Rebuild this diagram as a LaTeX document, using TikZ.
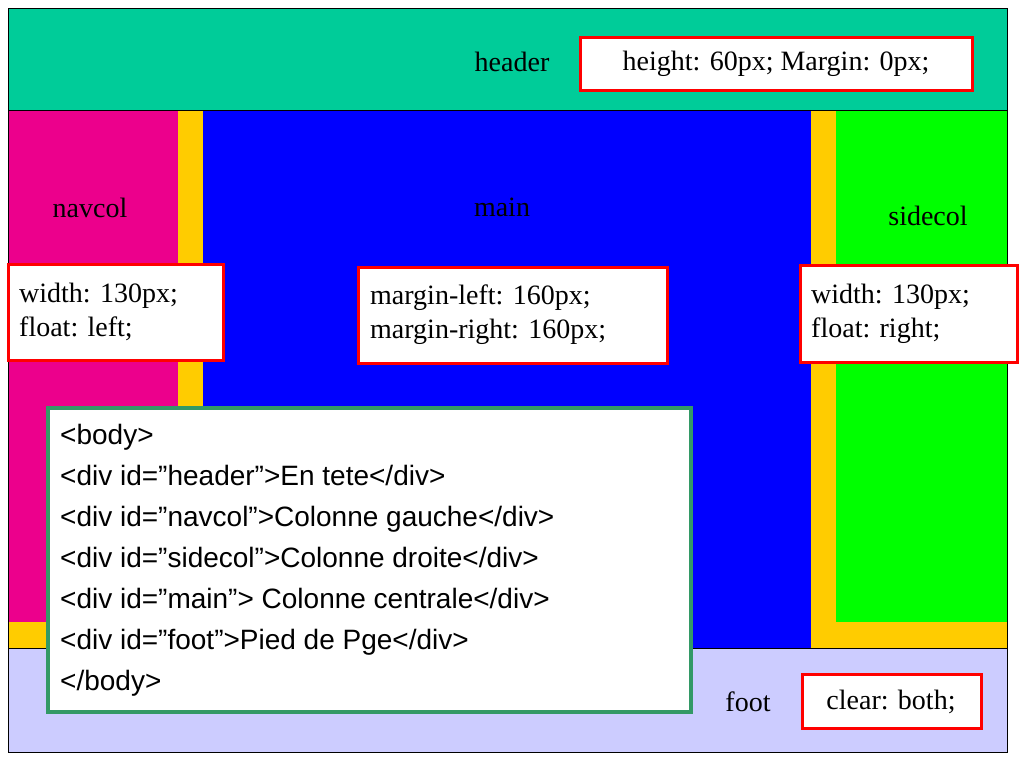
\documentclass[tikz,border=0pt]{standalone}
\usepackage{fontspec}
\setmainfont{Liberation Serif}
\setsansfont{Liberation Sans}
\usetikzlibrary{positioning}
\definecolor{headc}{RGB}{0,204,153}
\definecolor{gutter}{RGB}{255,204,0}
\definecolor{footc}{RGB}{204,204,255}
\definecolor{codeframe}{RGB}{51,153,102}
\tikzstyle{lbl} = [font=\fontsize{28}{30}\selectfont, inner sep=0pt]
\begin{document}
\begin{tikzpicture}[x=1pt, y=-1pt]
\useasboundingbox (0, 0) rectangle (1024, 768);

% Zones
\fill [gutter] (8, 110) rectangle (1007, 648);
\fill [headc] (8, 8) rectangle (1007, 110);
\fill [magenta] (8, 110) rectangle (178, 622);
\fill [blue] (203, 110) rectangle (811, 648);
\fill [green] (836, 110) rectangle (1007, 622);
\fill [footc] (8, 648) rectangle (1007, 752);
\draw (8, 110) -- (1007, 110);
\draw (8, 648) -- (1007, 648);
\draw (8, 8) rectangle (1007, 752);

% Labels
\node [lbl] (header) at (512, 62) {header};
\node [lbl] (navcol) at (90, 208) {navcol};
\node [lbl] (main) at (502, 207) {main};
\node [lbl] (sidecol) at (928, 216) {sidecol};
\node [lbl] (foot) at (748, 702) {foot};

% Rules
\draw [draw=red, line width=3pt, fill=white] (580, 38) rectangle (972, 90);
\node [lbl] (headrule) at (776, 64) {height: 60px; Margin: 0px;};
\draw [draw=red, line width=3pt, fill=white] (8, 264) rectangle (223, 360);
\node [lbl, align=left, anchor=west] (navrule) at (19, 312)
  {width: 130px;\\[4pt] float: left;};
\draw [draw=red, line width=3pt, fill=white] (358, 267) rectangle (667, 363);
\node [lbl, align=left, anchor=west] (mainrule) at (370, 315)
  {margin-left: 160px;\\[4pt] margin-right: 160px;};
\draw [draw=red, line width=3pt, fill=white] (800, 265) rectangle (1017, 362);
\node [lbl, align=left, anchor=west] (siderule) at (811, 314)
  {width: 130px;\\[4pt] float: right;};
\draw [draw=red, line width=3pt, fill=white] (802, 674) rectangle (981, 728);
\node [lbl] (footrule) at (891, 702) {clear: both;};

% Code
\draw [draw=codeframe, line width=4pt, fill=white] (48, 408) rectangle (691, 712);
\node [anchor=north west, align=left, inner sep=0pt,
  font=\sffamily\fontsize{28}{41}\selectfont] (code) at (60, 424)
  {<body>\\
   <div id="header">En tete</div>\\
   <div id="navcol">Colonne gauche</div>\\
   <div id="sidecol">Colonne droite</div>\\
   <div id="main"> Colonne centrale</div>\\
   <div id="foot">Pied de Pge</div>\\
   </body>};

\end{tikzpicture}
\end{document}
